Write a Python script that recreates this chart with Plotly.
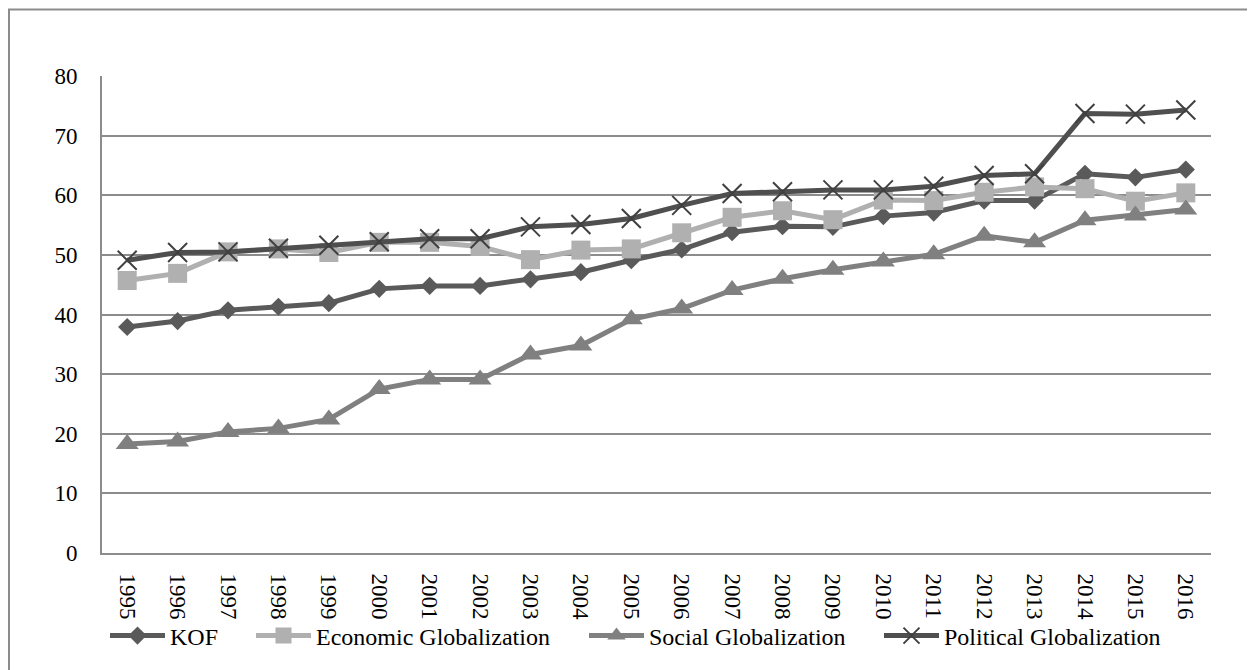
import plotly.graph_objects as go

years = [str(y) for y in range(1995, 2017)]

kof = [37.9, 38.9, 40.7, 41.3, 41.9, 44.3, 44.8, 44.8, 45.9, 47.1, 49.1, 50.9,
       53.8, 54.8, 54.7, 56.5, 57.1, 59.1, 59.1, 63.6, 63.0, 64.3]
economic = [45.7, 46.9, 50.5, 51.0, 50.4, 52.1, 52.1, 51.4, 49.2, 50.8, 51.0, 53.7,
            56.3, 57.4, 55.9, 59.2, 59.1, 60.5, 61.4, 61.1, 59.0, 60.4]
social = [18.3, 18.7, 20.3, 20.9, 22.4, 27.5, 29.1, 29.1, 33.3, 34.8, 39.2, 41.0,
          44.1, 46.0, 47.5, 48.9, 50.1, 53.2, 52.1, 55.8, 56.6, 57.6]
political = [49.1, 50.4, 50.5, 51.1, 51.6, 52.2, 52.7, 52.7, 54.7, 55.1, 56.1, 58.3,
             60.3, 60.6, 60.9, 60.9, 61.5, 63.3, 63.6, 73.7, 73.6, 74.3]

FONT = "Liberation Serif"

# page offset of the plotly div (body margin)
OFF = 8
W, H = 1247, 662
L, R, T, B = 102 - OFF, W - (1211 - OFF), 76 - OFF, H - (553 - OFF)
pw, ph = W - L - R, H - T - B

def px_x(p):
    return (p - OFF - L) / pw

def px_y(p):
    return (H - B - (p - OFF)) / ph

fig = go.Figure()
fig.add_trace(go.Scatter(
    x=years, y=kof, name="KOF", mode="lines+markers", legend="legend",
    line=dict(color="#5a5a5a", width=5),
    marker=dict(symbol="diamond", size=14, color="#5a5a5a")))
fig.add_trace(go.Scatter(
    x=years, y=economic, name="Economic Globalization", mode="lines+markers",
    legend="legend2",
    line=dict(color="#b0b0b0", width=5),
    marker=dict(symbol="square", size=19, color="#b0b0b0")))
fig.add_trace(go.Scatter(
    x=years, y=social, name="Social Globalization", mode="lines+markers",
    legend="legend3",
    line=dict(color="#808080", width=5),
    marker=dict(symbol="triangle-up", size=20, color="#808080")))
fig.add_trace(go.Scatter(
    x=years, y=political, name="Political Globalization", mode="lines+markers",
    legend="legend4",
    line=dict(color="#4f4f4f", width=5),
    marker=dict(symbol="x-thin", size=19, color="#404040",
                line=dict(width=2, color="#404040"))))

def leg(xpix):
    return dict(orientation="h", x=px_x(xpix - 6), xanchor="left",
                y=px_y(636), yanchor="middle",
                font=dict(family=FONT, size=24, color="black"),
                itemwidth=55, bgcolor="rgba(0,0,0,0)")

fig.update_layout(
    width=W, height=H,
    margin=dict(l=L, r=R, t=T, b=B),
    paper_bgcolor="white", plot_bgcolor="white",
    font=dict(family=FONT, size=23, color="black"),
    showlegend=True,
    legend=leg(111), legend2=leg(257), legend3=leg(590), legend4=leg(885),
    xaxis=dict(type="category", range=[-0.5, 21.5], tickangle=90,
               showgrid=False, showline=True, linecolor="#8c8c8c", linewidth=2,
               ticks="outside", ticklen=14, tickcolor="rgba(0,0,0,0)",
               tickfont=dict(family=FONT, size=23), fixedrange=True),
    yaxis=dict(range=[0, 80], dtick=10, showgrid=True, gridcolor="#8c8c8c",
               gridwidth=2, showline=True, linecolor="#8c8c8c", linewidth=2,
               zeroline=False, ticks="outside", ticklen=18,
               tickcolor="rgba(0,0,0,0)",
               tickfont=dict(family=FONT, size=23), fixedrange=True),
    shapes=[dict(type="rect", xref="paper", yref="paper",
                 x0=px_x(9), x1=px_x(1300), y0=px_y(720), y1=px_y(9.5),
                 line=dict(color="#8c8c8c", width=2), layer="below")],
)

fig.write_html("out.html")
